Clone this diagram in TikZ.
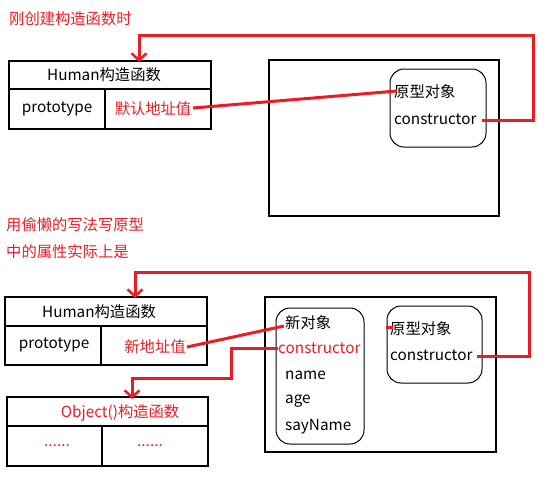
\documentclass[tikz,border=0pt]{standalone}
\usepackage{fontspec}
\setmainfont{Noto Sans CJK SC}
\usetikzlibrary{arrows.meta}
\definecolor{rd}{RGB}{237,28,36}
\tikzset{
  box/.style={draw=black, line width=1.2pt},
  rbox/.style={draw=black, line width=1pt, rounded corners=14pt},
  txt/.style={font=\fontsize{15.3}{18}\selectfont, inner sep=0pt},
  rtxt/.style={txt, text=rd},
  link/.style={draw=rd, line width=3pt},
  arr/.style={link, -{Straight Barb[length=7pt,width=15pt,line width=2.5pt]}},
}
\begin{document}
\begin{tikzpicture}[x=1pt,y=-1pt]
\useasboundingbox (0,0) rectangle (553,480);
% ---------- top ----------
\node[rtxt, anchor=west] (t1) at (9,19) {刚创建构造函数时};
\draw[box] (9,61) rectangle (211,129);
\draw[box] (9,89) -- (211,89);
\draw[box] (105,89) -- (105,129);
\node[txt] (h1) at (104,75) {Human构造函数};
\node[txt] (p1) at (57,109) {prototype};
\node[rtxt] (d1) at (153,109) {默认地址值};
\coordinate (d1e) at (193,108);
\draw[box] (269,60) rectangle (499,216);
\draw[rbox] (390,69) rectangle (486,147);
\node[txt, anchor=west] (y1) at (394,92) {原型对象};
\node[txt, anchor=west] (c1) at (394,119) {constructor};
\coordinate (y1w) at (397,91);
\coordinate (c1e) at (482,120);
\coordinate (a1r) at (533,120);
\coordinate (a1t) at (533,35);
\coordinate (a1l) at (139,35);
\coordinate (h1t) at (139,62);
\draw[link] (d1e) -- (y1w);
\draw[arr] (c1e) -- (a1r) -- (a1t) -- (a1l) -- (h1t);
% ---------- bottom ----------
\node[rtxt, anchor=west] (t2) at (6,225) {用偷懒的写法写原型};
\node[rtxt, anchor=west] (t3) at (6,252) {中的属性实际上是};
\draw[box] (5,297) rectangle (207,365);
\draw[box] (5,326) -- (207,326);
\draw[box] (101,326) -- (101,365);
\node[txt] (h2) at (99,312) {Human构造函数};
\node[txt] (p2) at (54,345) {prototype};
\node[rtxt] (d2) at (155,347) {新地址值};
\coordinate (d2e) at (187,347);
\draw[box] (7,397) rectangle (208,466);
\draw[box] (7,426) -- (208,426);
\draw[box] (102,426) -- (102,466);
\node[rtxt] (o2) at (120,413) {Object()构造函数};
\node[rtxt] (dd1) at (57,446) {......};
\node[rtxt] (dd2) at (150,446) {......};
\draw[box] (265,297) rectangle (496,452);
\draw[rbox] (276,308) rectangle (364,444);
\node[txt, anchor=west] (n2) at (285,323) {新对象};
\node[rtxt, anchor=west] (nc2) at (278,348) {constructor};
\node[txt, anchor=west] (nm2) at (285,375) {name};
\node[txt, anchor=west] (ag2) at (285,401) {age};
\node[txt, anchor=west] (sn2) at (285,427) {sayName};
\draw[rbox] (387,306) rectangle (482,383);
\node[txt, anchor=west] (y2) at (390,329) {原型对象};
\node[txt, anchor=west] (c2) at (390,355) {constructor};
\coordinate (n2w) at (284,326);
\coordinate (nc2w) at (278,348);
\coordinate (b1) at (231,348);
\coordinate (b2) at (231,378);
\coordinate (b3) at (132,378);
\coordinate (o2t) at (132,399);
\coordinate (c2e) at (477,356);
\coordinate (b4) at (529,356);
\coordinate (b5) at (529,272);
\coordinate (b6) at (135,272);
\coordinate (h2t) at (135,298);
\coordinate (y2a) at (386,327);
\coordinate (y2b) at (393,327);
\draw[link] (d2e) -- (n2w);
\draw[arr] (nc2w) -- (b1) -- (b2) -- (b3) -- (o2t);
\draw[arr] (c2e) -- (b4) -- (b5) -- (b6) -- (h2t);
\draw[link] (y2a) -- (y2b);
\end{tikzpicture}
\end{document}
